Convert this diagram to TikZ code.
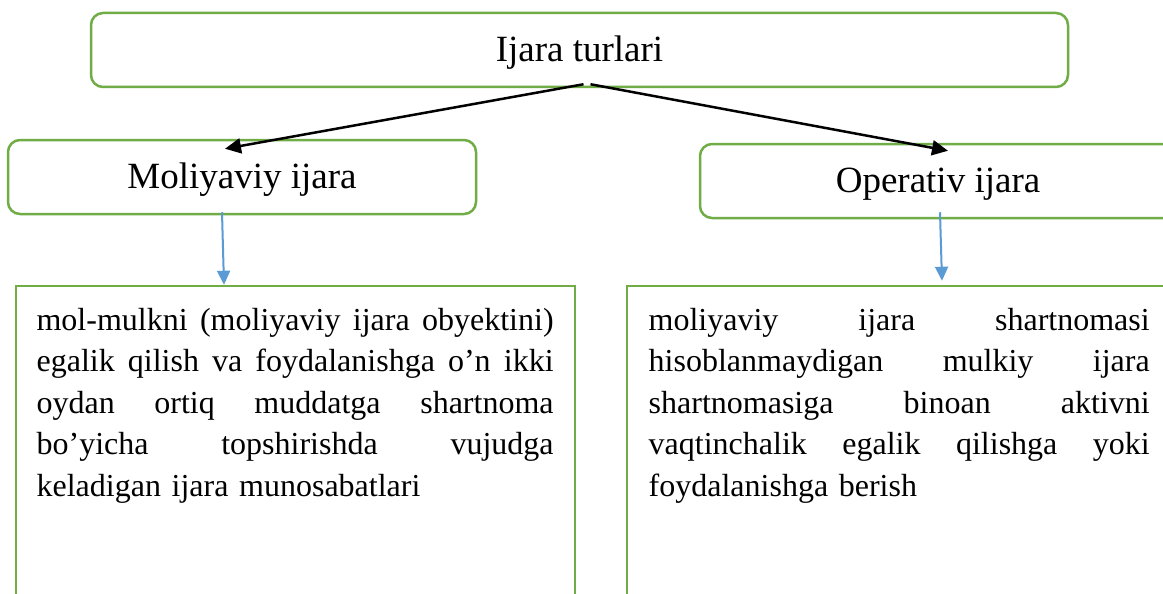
\documentclass[tikz,border=0pt]{standalone}
\usepackage{fontspec}
\setmainfont{Liberation Serif}
\usetikzlibrary{arrows.meta,calc}
\definecolor{boxgreen}{RGB}{112,173,71}
\definecolor{arrowblue}{RGB}{91,155,213}
\newcommand{\jline}[2]{\leavevmode\hbox to #1{#2}}
\begin{document}
\begin{tikzpicture}[x=1pt,y=-1pt,
  headbox/.style={draw=boxgreen,line width=2.5pt,rounded corners=12pt,inner sep=0pt,minimum height=74pt},
  textbox/.style={draw=boxgreen,line width=2.5pt,inner sep=0pt},
  headtext/.style={font=\fontsize{37}{44}\selectfont,inner sep=0pt,anchor=base},
  bodytext/.style={font=\fontsize{32}{41.5}\selectfont,inner sep=0pt,anchor=base west,align=left},
  mainarrow/.style={line width=2.5pt,-{Triangle[length=16pt,width=15pt]}},
  subarrow/.style={draw=arrowblue,line width=2pt,-{Triangle[length=14pt,width=13pt]}}]
\useasboundingbox (0,0) rectangle (1163,594);
\clip (0,0) rectangle (1163,594);
\fill[white] (0,0) rectangle (1163,594);
% boxes
\node[headbox,minimum width=977pt] (top) at (579.5,50) {};
\node[headbox,minimum width=468pt] (mol) at (242,177) {};
\node[headbox,minimum width=490pt] (op) at (945,181) {};
\node[textbox,minimum width=559pt,minimum height=364pt] (molbox) at (295.5,468) {};
\node[textbox,minimum width=563pt,minimum height=364pt] (opbox) at (908.5,468) {};
% titles
\node[headtext] (toptext) at (579.5,62) {Ijara turlari};
\node[headtext] (moltext) at (242,188) {Moliyaviy ijara};
\node[headtext] (optext) at (938,192) {Operativ ijara};
% body texts
\node[bodytext,text width=517pt] (moldesc) at (36.4,330) {%
\jline{517pt}{mol-mulkni\hfill (moliyaviy\hfill ijara\hfill obyektini)}\\
\jline{517pt}{egalik\hfill qilish\hfill va\hfill foydalanishga\hfill o’n\hfill ikki}\\
\jline{517pt}{oydan\hfill ortiq\hfill muddatga\hfill shartnoma}\\
\jline{517pt}{bo’yicha\hfill topshirishda\hfill vujudga}\\
keladigan ijara munosabatlari};
\node[bodytext,text width=501pt] (opdesc) at (648.5,330) {%
\jline{501pt}{moliyaviy\hfill ijara\hfill shartnomasi}\\
\jline{501pt}{hisoblanmaydigan\hfill mulkiy\hfill ijara}\\
\jline{501pt}{shartnomasiga\hfill binoan\hfill aktivni}\\
\jline{501pt}{vaqtinchalik\hfill egalik\hfill qilishga\hfill yoki}\\
foydalanishga berish};
% arrows
\draw[mainarrow] ($(top.south)+(4,-4)$) -- ($(mol.north)+(-17,10)$);
\draw[mainarrow] ($(top.south)+(11,-4)$) -- ($(op.north)+(3,8)$);
\draw[subarrow] ($(mol.south)+(-20,-3)$) -- ($(molbox.north)+(-71.5,0)$);
\draw[subarrow] ($(op.south)+(-5,-7)$) -- ($(opbox.north)+(33.5,-4)$);
\end{tikzpicture}
\end{document}
